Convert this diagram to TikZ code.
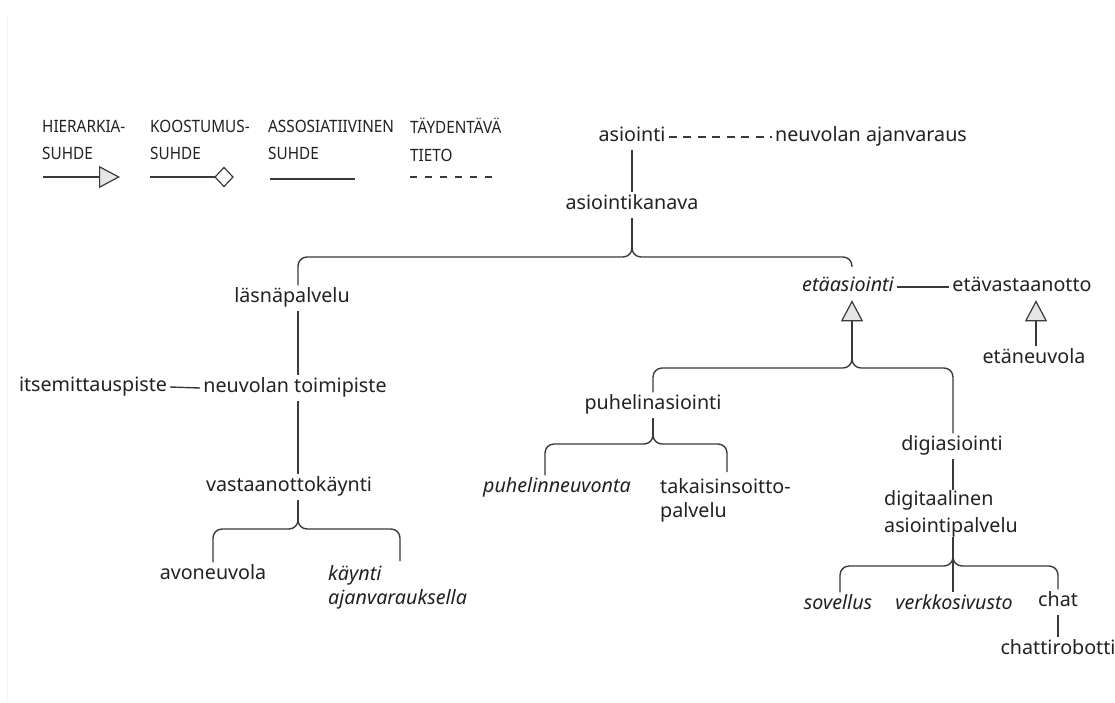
\documentclass[tikz,border=0pt]{standalone}
\usepackage{fontspec}
\setmainfont{Noto Sans}
\newfontfamily\legfont[FakeStretch=0.9]{Noto Sans}
\usetikzlibrary{arrows.meta}
\definecolor{txt}{HTML}{222222}
\definecolor{ln}{HTML}{3A3A3A}
\definecolor{trifill}{HTML}{E6E6E6}
\tikzset{
  lbl/.style={text=txt, font=\fontsize{19.7}{25}\selectfont, inner sep=3pt, text height=14.5pt, text depth=4.6pt},
  lbl2/.style={text=txt, font=\fontsize{19.7}{24.5}\selectfont, align=left, inner sep=0pt},
  leg/.style={text=txt, font=\legfont\fontsize{17}{27.5}\selectfont, align=left, inner sep=0pt},
  conn/.style={draw=ln, line width=1.4pt},
  brace/.style={conn, rounded corners=9pt},
  dashline/.style={conn, dash pattern=on 8pt off 6.5pt},
  hier/.style={conn, -{Triangle[open, fill=trifill, length=21pt, width=22pt, line width=1.2pt]}},
}
\begin{document}
\begin{tikzpicture}[x=1pt, y=-1pt]
\useasboundingbox (0,0) rectangle (1115,702);
\fill[white] (0,0) rectangle (1115,702);
\draw[gray!10, line width=1pt] (7,16) -- (7,702);

% ---------- legend ----------
\node[leg, anchor=west] (l1) at (42,140) {HIERARKIA-\\SUHDE};
\node[leg, anchor=west] (l2) at (150,140) {KOOSTUMUS-\\SUHDE};
\node[leg, anchor=west] (l3) at (268,140) {ASSOSIATIIVINEN\\SUHDE};
\node[leg, anchor=west] (l4) at (410,140) {TÄYDENTÄVÄ\\TIETO};
\coordinate (h1) at (43,177);
\coordinate (h2) at (120,177);
\draw[hier] (h1) -- (h2);
\coordinate (k1) at (150,177);
\coordinate (k2) at (215,177);
\draw[conn] (k1) -- (k2);
\draw[conn, line width=1.2pt] (k2) -- (224,167.5) -- (233,177) -- (224,186.5) -- cycle;
\coordinate (a1) at (270,179);
\coordinate (a2) at (355,179);
\draw[conn] (a1) -- (a2);
\coordinate (t1) at (410,177);
\coordinate (t2) at (493,177);
\draw[conn, dash pattern=on 7pt off 8pt] (t1) -- (t2);

% ---------- nodes ----------
\node[lbl] (asiointi) at (632,137) {asiointi};
\node[lbl, anchor=west] (ajanv) at (772,137) {neuvolan ajanvaraus};
\node[lbl] (kanava) at (632,205) {asiointikanava};
\node[lbl] (lasna) at (292,298) {läsnäpalvelu};
\node[lbl] (toimi) at (295,388) {neuvolan toimipiste};
\node[lbl] (itse) at (93,387) {itsemittauspiste};
\node[lbl] (vkaynti) at (289,487) {vastaanottokäynti};
\node[lbl] (avo) at (213,575) {avoneuvola};
\node[lbl2, anchor=north west] (kaynti) at (328,565) {\itshape käynti\\\itshape ajanvarauksella};

\node[lbl, inner sep=3.5pt] (etaa) at (848,287) {\itshape etäasiointi};
\node[lbl, inner sep=3.5pt] (etav) at (1022,287) {etävastaanotto};
\node[lbl] (etaneu) at (1034,359) {etäneuvola};

\node[lbl] (puhas) at (653,405) {puhelinasiointi};
\node[lbl] (puhneu) at (557,488) {\itshape puhelinneuvonta};
\node[lbl2, anchor=north west] (takais) at (660,478) {takaisinsoitto-\\palvelu};

\node[lbl] (digi) at (952,446) {digiasiointi};
\node[lbl2, anchor=north west] (digit) at (884,490) {digitaalinen\\[2.5pt]asiointipalvelu};
\node[lbl] (sov) at (838,605) {\itshape sovellus};
\node[lbl] (verk) at (954,605) {\itshape verkkosivusto};
\node[lbl] (chat) at (1058,602) {chat};
\node[lbl] (robot) at (1058,650) {chattirobotti};

% ---------- connectors ----------
\draw[dashline] (asiointi.east) -- (ajanv.west);
\draw[conn] (asiointi.south) -- (kanava.north);

% brace under asiointikanava
\coordinate (b1tip) at (632,248);
\draw[conn] (kanava.south) -- (b1tip);
\draw[brace] (lasna.north -| 298,0) -- (298,257) -- (632,257) -- (b1tip);
\draw[brace, shorten >=7pt] (b1tip) -- (632,257) -- (852,257) -- (etaa.north -| 852,0);

% läsnäpalvelu spine
\coordinate (sx) at (298,0);
\draw[conn] (lasna.south -| sx) -- (toimi.north -| sx);
\draw[conn] (itse.east) -- (toimi.west);
\draw[conn] (toimi.south -| sx) -- (vkaynti.north -| sx);

% brace under vastaanottokäynti
\coordinate (b2tip) at (298,521);
\draw[conn] (vkaynti.south -| sx) -- (b2tip);
\draw[brace] (avo.north) -- (213,529) -- (298,529) -- (b2tip);
\draw[brace] (b2tip) -- (298,529) -- (400,529) -- (400,561);

% etäasiointi
\draw[conn] (etaa.east) -- (etav.west);
\coordinate (b3tip) at (852,360);
\draw[hier] (b3tip) -- (etaa.south -| b3tip);
\draw[brace] (puhas.north) -- (653,368) -- (852,368) -- (b3tip);
\draw[brace] (b3tip) -- (852,368) -- (953,368) -- (digi.north -| 953,0);

% etävastaanotto
\draw[hier] (etaneu.north -| 1036,0) -- (etav.south -| 1036,0);

% brace under puhelinasiointi
\coordinate (b4tip) at (653,436);
\draw[conn] (puhas.south) -- (b4tip);
\draw[brace] (puhneu.north -| 545,0) -- (545,444) -- (653,444) -- (b4tip);
\draw[brace] (b4tip) -- (653,444) -- (727,444) -- (727,472);

% digiasiointi
\draw[conn] (digi.south -| 953,0) -- (digit.north -| 953,0);
\coordinate (b5tip) at (953,558);
\draw[conn] (digit.south -| 953,0) -- (b5tip);
\draw[brace] (sov.north -| 840,0) -- (840,566) -- (953,566) -- (b5tip);
\draw[brace] (b5tip) -- (953,566) -- (1058,566) -- (chat.north);
\draw[conn] (b5tip) -- (verk.north -| 953,0);
\draw[conn] (chat.south) -- (robot.north);
\end{tikzpicture}
\end{document}
